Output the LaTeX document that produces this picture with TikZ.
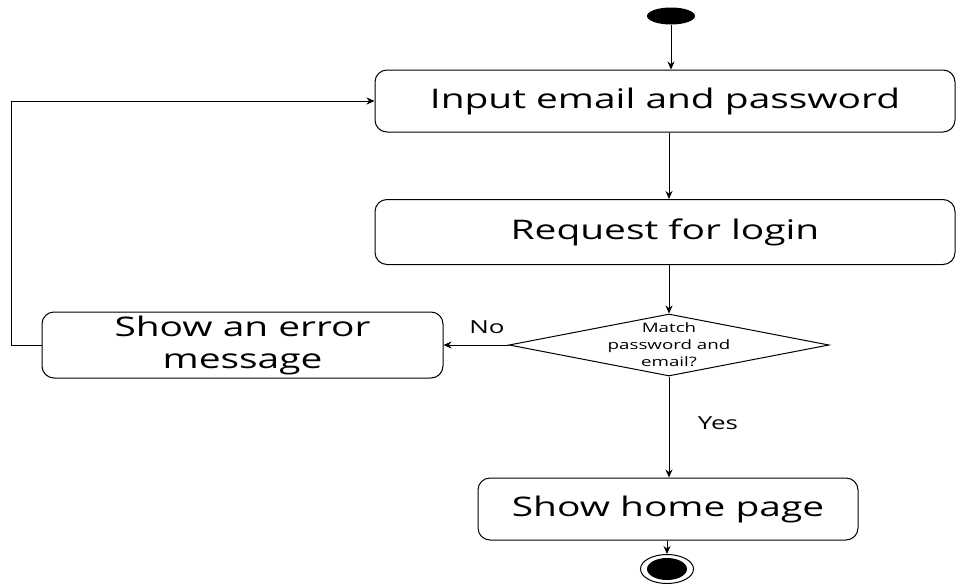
\documentclass[tikz,border=0pt]{standalone}
\usepackage{fontspec}
\setmainfont{Open Sans}[FakeStretch=1.44]
\usetikzlibrary{shapes.geometric,arrows.meta}
\begin{document}
\begin{tikzpicture}[x=1pt,y=-1pt,
  act/.style={draw, rounded corners=12pt, line width=1pt, align=center,
    font=\fontsize{27}{32}\selectfont, inner sep=0pt},
  flow/.style={draw, line width=1pt, -{Stealth[length=8pt,width=7pt]}},
  lbl/.style={font=\fontsize{18}{20}\selectfont, inner sep=0pt}]
\useasboundingbox (0,0) rectangle (956,584);
\node[act, minimum width=580pt, minimum height=62pt] (input) at (665,101) {Input email and password};
\node[act, minimum width=580pt, minimum height=65pt] (req) at (665,232) {Request for login};
\node[draw, diamond, minimum width=320pt, minimum height=62pt, inner sep=0pt, line width=1pt] (dec) at (669,345) {};
\node[font=\fontsize{13}{17}\selectfont, align=center, inner sep=0pt] (dectext) at (dec) {Match\\password and\\email?};
\node[act, minimum width=401pt, minimum height=66pt] (err) at (242.5,345) {Show an error\\message};
\node[act, minimum width=380pt, minimum height=62pt] (home) at (668,509) {Show home page};
\node[ellipse, fill=black, minimum width=48pt, minimum height=17pt, inner sep=0pt] (start) at (671,16) {};
\node[ellipse, draw, line width=1pt, minimum width=53pt, minimum height=29pt, inner sep=0pt] (end) at (667,569) {};
\node[ellipse, fill=black, minimum width=40pt, minimum height=22pt, inner sep=0pt] (endin) at (end) {};
\node[lbl] (no) at (487,327) {No};
\node[lbl] (yes) at (718,423) {Yes};
\draw[flow] (start.south) -- (start.south |- input.north);
\draw[flow] (input.south -| dec) -- (req.north -| dec);
\draw[flow] (req.south -| dec) -- (dec.north);
\draw[flow] (dec.west) -- (err.east);
\draw[flow] (dec.south) -- (dec.south |- home.north);
\draw[flow] (home.south -| end) -- (end.north);
\draw[flow] (err.west) -- ++(-30,0) |- (input.west);
\end{tikzpicture}
\end{document}
